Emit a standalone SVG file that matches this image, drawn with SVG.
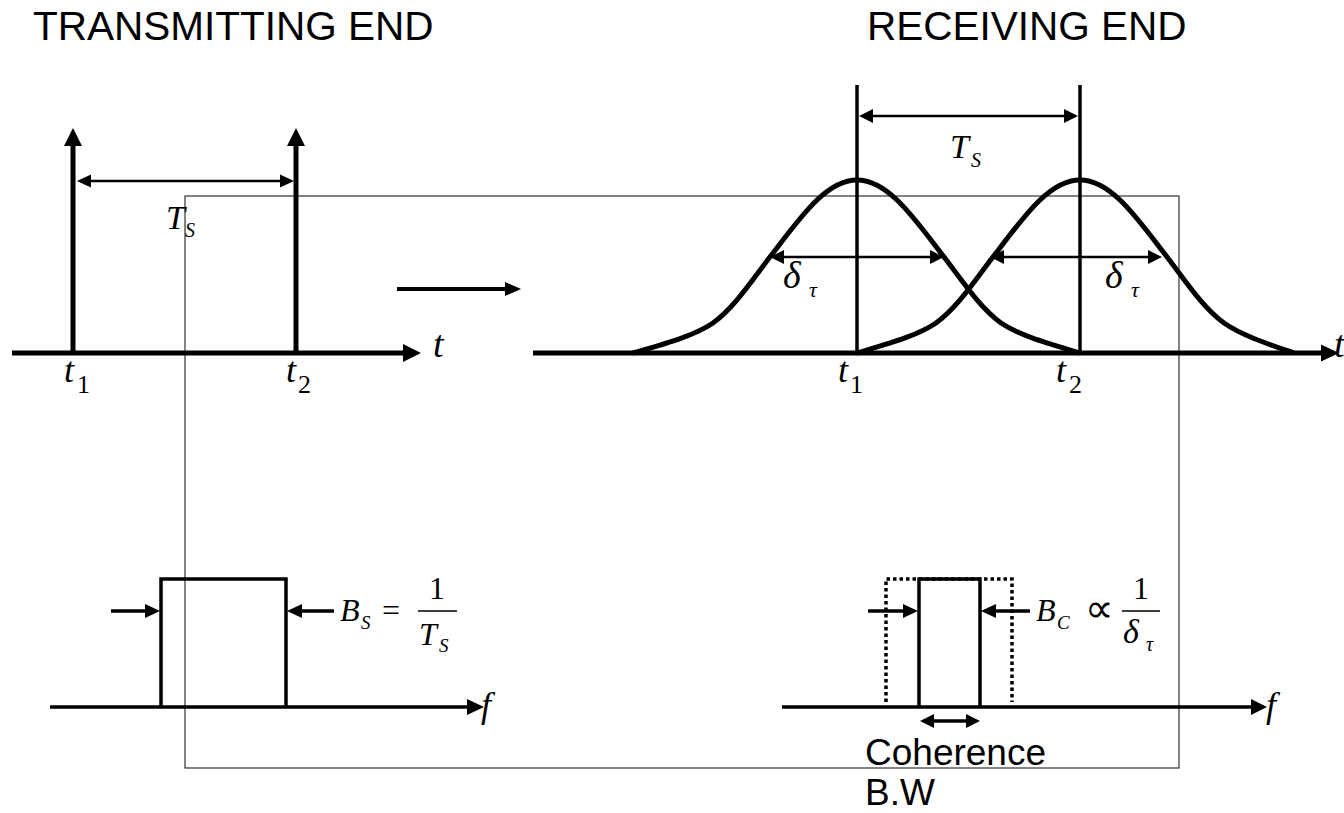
<svg xmlns="http://www.w3.org/2000/svg" width="1344" height="813" viewBox="0 0 1344 813">
<style>
.title{font-family:"Liberation Sans",Arial,sans-serif;font-size:40.5px;fill:#000}
.sans{font-family:"Liberation Sans",Arial,sans-serif;font-size:37px;fill:#000}
.m{font-family:"Liberation Serif","Times New Roman",serif;font-style:italic;fill:#000}
.r{font-family:"Liberation Serif","Times New Roman",serif;fill:#000}
.thick{stroke:#000;stroke-width:5;fill:none}
.med{stroke:#000;stroke-width:3.5;fill:none}
.thin{stroke:#000;stroke-width:2.5;fill:none}
.head{fill:#000}
.frame{stroke:#333;stroke-width:1.2;fill:none}
.dot{stroke:#000;stroke-width:3.5;fill:none;stroke-dasharray:3.5 3}
.curve{stroke:#000;stroke-width:5;fill:none;stroke-linejoin:round}
</style>
<rect width="1344" height="813" fill="#fff"/>
<rect class="frame" x="185" y="196" width="994" height="572"/>

<g id="titles">
<text class="title" x="33" y="40">TRANSMITTING END</text>
<text class="title" x="867" y="40">RECEIVING END</text>
</g>

<g id="tx-time">
<line class="thick" x1="12" y1="353" x2="405" y2="353"/>
<polygon class="head" points="421,353 403,344 403,362"/>
<text class="m" x="433" y="357" font-size="38">t</text>
<line class="thick" x1="73" y1="355" x2="73" y2="144"/>
<polygon class="head" points="73,128 64,146 82,146"/>
<line class="thick" x1="296" y1="355" x2="296" y2="144"/>
<polygon class="head" points="296,128 287,146 305,146"/>
<line class="thin" x1="88" y1="181" x2="283" y2="181"/>
<polygon class="head" points="77,181 91,174.5 91,187.5"/>
<polygon class="head" points="294,181 280,174.5 280,187.5"/>
<text class="m" x="166" y="229" font-size="34">T</text>
<text class="m" x="185" y="237" font-size="20">S</text>
<text class="m" x="64" y="382" font-size="36">t</text>
<text class="r" x="77" y="393" font-size="26">1</text>
<text class="m" x="286" y="382" font-size="36">t</text>
<text class="r" x="298" y="393" font-size="26">2</text>
</g>

<g id="channel-arrow">
<line stroke="#000" stroke-width="4" x1="397" y1="289" x2="507" y2="289"/>
<polygon class="head" points="521,289 505,282 505,296"/>
</g>

<g id="rx-time">
<line class="thick" x1="533" y1="353" x2="1323" y2="353"/>
<polygon class="head" points="1339,353 1321,344.5 1321,361.5"/>
<text class="m" x="1334" y="357" font-size="38">t</text>
<line class="med" x1="857" y1="85" x2="857" y2="355"/>
<line class="med" x1="1080" y1="85" x2="1080" y2="355"/>
<line class="thin" x1="870" y1="116" x2="1067" y2="116"/>
<polygon class="head" points="859,116 873,109 873,123"/>
<polygon class="head" points="1078,116 1064,109 1064,123"/>
<text class="m" x="950" y="158" font-size="34">T</text>
<text class="m" x="971" y="167" font-size="20">S</text>
<path class="curve" d="M633,353 C664,344 694,336 713,323 C735,307 752,280 773,253 C802,215 827,180 857,180 C887,180 912,215 941,253 C962,280 979,307 1001,323 C1020,336 1050,344 1080,353"/>
<path class="curve" d="M857,353 C887,344 917,336 936,323 C958,307 975,280 996,253 C1025,215 1050,180 1080,180 C1110,180 1135,215 1164,253 C1185,280 1202,307 1224,323 C1243,336 1268,344 1294,353"/>
<line class="thin" x1="782" y1="257" x2="932" y2="257"/>
<polygon class="head" points="770,257 784,250 784,264"/>
<polygon class="head" points="944,257 930,250 930,264"/>
<line class="thin" x1="1002" y1="257" x2="1150" y2="257"/>
<polygon class="head" points="990,257 1004,250 1004,264"/>
<polygon class="head" points="1162,257 1148,250 1148,264"/>
<text class="m" x="783" y="288" font-size="38">δ</text>
<text class="m" x="809" y="297" font-size="22">τ</text>
<text class="m" x="1105" y="288" font-size="38">δ</text>
<text class="m" x="1131" y="297" font-size="22">τ</text>
<text class="m" x="838" y="382" font-size="36">t</text>
<text class="r" x="850" y="393" font-size="26">1</text>
<text class="m" x="1056" y="382" font-size="36">t</text>
<text class="r" x="1069" y="393" font-size="26">2</text>
</g>

<g id="tx-freq">
<line class="med" x1="50" y1="707" x2="470" y2="707"/>
<polygon class="head" points="484,707 467,699 467,715"/>
<text class="m" x="481" y="717" font-size="36">f</text>
<path class="med" d="M161,707 V579 H286 V707"/>
<line class="med" x1="111" y1="611" x2="148" y2="611"/>
<polygon class="head" points="160,611 145,604 145,618"/>
<line class="med" x1="334" y1="611" x2="299" y2="611"/>
<polygon class="head" points="287,611 302,604 302,618"/>
<text class="m" x="340" y="621" font-size="32">B</text>
<text class="m" x="361" y="629" font-size="19">S</text>
<text class="r" x="382" y="621" font-size="32">=</text>
<line stroke="#000" stroke-width="1.5" x1="418" y1="611" x2="457" y2="611"/>
<text class="r" x="437" y="599" font-size="32" text-anchor="middle">1</text>
<text class="m" x="419" y="645" font-size="32">T</text>
<text class="m" x="439" y="652" font-size="19">S</text>
</g>

<g id="rx-freq">
<line class="med" x1="782" y1="707" x2="1254" y2="707"/>
<polygon class="head" points="1267,707 1251,699 1251,715"/>
<text class="m" x="1266" y="717" font-size="36">f</text>
<path class="dot" d="M886,702 V579 H1012 V702"/>
<path class="med" d="M919,707 V579 H980 V707"/>
<line class="med" x1="868" y1="611" x2="906" y2="611"/>
<polygon class="head" points="918,611 903,604 903,618"/>
<line class="med" x1="1030" y1="611" x2="994" y2="611"/>
<polygon class="head" points="981,611 996,604 996,618"/>
<line class="med" x1="932" y1="721" x2="968" y2="721"/>
<polygon class="head" points="920,721 934,714 934,728"/>
<polygon class="head" points="980,721 966,714 966,728"/>
<text class="m" x="1036" y="621" font-size="32">B</text>
<text class="m" x="1057" y="629" font-size="19">C</text>
<text class="r" x="1085" y="622" font-size="40">∝</text>
<line stroke="#000" stroke-width="1.5" x1="1122" y1="611" x2="1160" y2="611"/>
<text class="r" x="1141" y="599" font-size="32" text-anchor="middle">1</text>
<text class="m" x="1123" y="643" font-size="34">δ</text>
<text class="m" x="1146" y="651" font-size="20">τ</text>
<text class="sans" x="865" y="765">Coherence</text>
<text class="sans" x="865" y="805">B.W</text>
</g>
</svg>
